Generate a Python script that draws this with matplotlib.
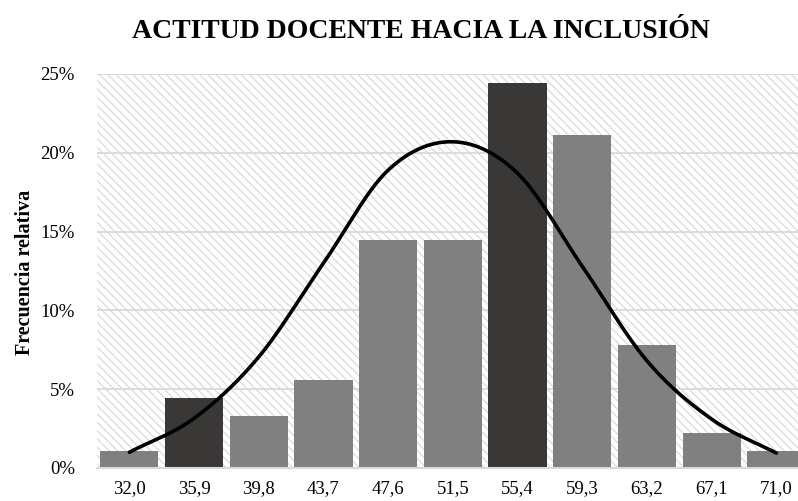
import numpy as np
import matplotlib
matplotlib.use("Agg")
import matplotlib.pyplot as plt
from matplotlib.patches import Rectangle
from matplotlib.ticker import PercentFormatter

# datos: marcas de clase y frecuencia relativa (n = 90)
categorias = ["32,0", "35,9", "39,8", "43,7", "47,6", "51,5", "55,4", "59,3", "63,2", "67,1", "71,0"]
frecuencia = [0.0111, 0.0444, 0.0333, 0.0556, 0.1444, 0.1444, 0.2444, 0.2111, 0.0778, 0.0222, 0.0111]
curva_normal = [0.0100, 0.0315, 0.0705, 0.1300, 0.1890, 0.2070, 0.1870, 0.1280, 0.0680, 0.0310, 0.0095]
destacadas = ["35,9", "55,4"]

plt.rcParams["font.family"] = ["Liberation Serif", "DejaVu Serif"]
plt.rcParams["hatch.linewidth"] = 0.9


def suavizar(x, y, pasos=30):
    # curva suavizada tipo Catmull-Rom (como la linea suavizada de Excel)
    x = np.asarray(x, float)
    y = np.asarray(y, float)
    px = np.concatenate([[2 * x[0] - x[1]], x, [2 * x[-1] - x[-2]]])
    py = np.concatenate([[2 * y[0] - y[1]], y, [2 * y[-1] - y[-2]]])
    xs, ys = [], []
    t = np.linspace(0, 1, pasos, endpoint=False)
    for i in range(1, len(px) - 2):
        for p, out in ((px, xs), (py, ys)):
            p0, p1, p2, p3 = p[i - 1], p[i], p[i + 1], p[i + 2]
            out.extend(0.5 * (2 * p1 + (-p0 + p2) * t + (2 * p0 - 5 * p1 + 4 * p2 - p3) * t ** 2
                              + (-p0 + 3 * p1 - 3 * p2 + p3) * t ** 3))
    xs.append(x[-1])
    ys.append(y[-1])
    return np.array(xs), np.array(ys)


fig = plt.figure(figsize=(7.98, 5.01), dpi=100)
ax = fig.add_axes([97 / 798, 1 - 468 / 501, 711.7 / 798, 394 / 501])

pos = np.arange(len(categorias))
colores = ["#3a3836" if c in destacadas else "#808080" for c in categorias]

ax.add_patch(Rectangle((0, 0), 1, 1, transform=ax.transAxes, facecolor="white",
                       edgecolor="#dadada", linewidth=0, hatch="\\\\\\\\", zorder=0))
ax.bar(pos, frecuencia, width=0.9, color=colores, zorder=2)

cx, cy = suavizar(pos, curva_normal)
ax.plot(cx, cy, color="black", lw=2.6, solid_capstyle="round", zorder=3)

ax.set_xlim(-0.5, len(categorias) - 0.5)
ax.set_ylim(0, 0.25)
ax.set_yticks(np.arange(0, 0.251, 0.05))
ax.yaxis.set_major_formatter(PercentFormatter(1.0, decimals=0))
ax.set_xticks(pos)
ax.set_xticklabels(categorias)
ax.tick_params(axis="both", length=0, labelsize=13.5, colors="black")
ax.tick_params(axis="y", pad=16)
ax.tick_params(axis="x", pad=9)

ax.set_axisbelow(True)
ax.grid(axis="y", color="#d9d9d9", lw=1.3)
for s in ["top", "right", "left"]:
    ax.spines[s].set_visible(False)
ax.spines["bottom"].set_color("#d9d9d9")
ax.spines["bottom"].set_linewidth(1.5)
ax.spines["bottom"].set_zorder(4)

fig.text(421 / 798, 1 - 32 / 501, "ACTITUD DOCENTE HACIA LA INCLUSIÓN", ha="center", va="center",
         fontsize=20, fontweight="bold")
fig.text(25 / 798, 1 - 272 / 501, "Frecuencia relativa", ha="center", va="center",
         rotation=90, fontsize=14.5, fontweight="bold")

fig.savefig("out.png", dpi=100)
